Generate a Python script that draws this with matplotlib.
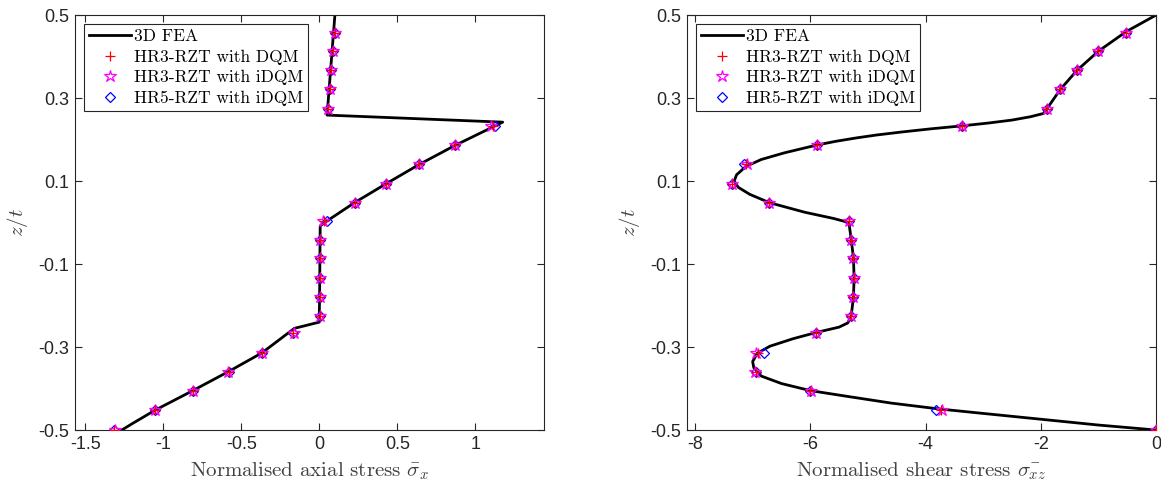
import numpy as np
import matplotlib
matplotlib.use("Agg")
import matplotlib.pyplot as plt

plt.rcParams['mathtext.fontset'] = 'cm'
plt.rcParams['axes.unicode_minus'] = False

# z/t positions of the sampled points
z_pts = [0.458, 0.413, 0.367, 0.321, 0.274, 0.233, 0.186, 0.140, 0.094, 0.048, 0.004,
         -0.041, -0.086, -0.133, -0.179, -0.225, -0.265, -0.314, -0.359, -0.405, -0.452, -0.500]

# axial stress: 3D FEA curve
ax_fea_x = [0.10, 0.05, 1.175, 0.87, 0.64, 0.43, 0.226, 0.05, 0.006, 0.005, 0.004, 0.003,
            0.002, 0.0, 0.0, -0.16, -0.367, -0.581, -0.81, -1.051, -1.20, -1.265]
ax_fea_z = [0.500, 0.259, 0.242, 0.186, 0.140, 0.094, 0.048, 0.004, -0.008, -0.041, -0.086,
            -0.133, -0.179, -0.225, -0.240, -0.255, -0.314, -0.359, -0.405, -0.452, -0.485, -0.500]
# axial stress: models
ax_dqm = [0.098, 0.088, 0.077, 0.066, 0.056, 1.11, 0.867, 0.637, 0.429, 0.226, 0.03,
          0.002, 0.002, 0.002, 0.002, 0.002, -0.171, -0.367, -0.581, -0.810, -1.051, -1.314]
ax_idqm3 = [0.098, 0.088, 0.077, 0.066, 0.056, 1.10, 0.867, 0.637, 0.429, 0.226, 0.025,
            0.002, 0.002, 0.002, 0.002, 0.002, -0.165, -0.367, -0.585, -0.810, -1.051, -1.310]
ax_idqm5 = [0.098, 0.088, 0.077, 0.066, 0.056, 1.125, 0.867, 0.637, 0.429, 0.226, 0.05,
            0.002, 0.002, 0.002, 0.002, 0.002, -0.171, -0.367, -0.581, -0.810, -1.051, -1.314]

# shear stress: 3D FEA curve
sh_fea_x = [0.0, -0.52, -1.0, -1.37, -1.66, -1.89, -1.95, -2.18, -2.5, -2.9, -3.37, -3.9,
            -4.43, -4.85, -5.2, -5.55, -5.88, -6.45, -6.85, -7.12, -7.28, -7.32, -7.25, -7.05,
            -6.71, -6.1, -5.6, -5.33, -5.29, -5.25, -5.24, -5.25, -5.29, -5.35, -5.5, -5.9,
            -6.3, -6.7, -6.92, -7.0, -6.98, -6.85, -6.5, -6.0, -5.4, -4.6, -3.78, -3.0, -2.0,
            -1.0, 0.0]
sh_fea_z = [0.500, 0.460, 0.413, 0.367, 0.321, 0.275, 0.263, 0.255, 0.247, 0.240, 0.233, 0.226,
            0.218, 0.211, 0.204, 0.196, 0.187, 0.168, 0.152, 0.135, 0.115, 0.100, 0.085, 0.068,
            0.048, 0.025, 0.010, 0.0, -0.040, -0.086, -0.133, -0.179, -0.225, -0.242, -0.252, -0.265,
            -0.280, -0.298, -0.315, -0.335, -0.350, -0.370, -0.388, -0.405, -0.418, -0.435, -0.449,
            -0.460, -0.474, -0.488, -0.500]
# shear stress: models
sh_dqm = [-0.52, -1.0, -1.37, -1.66, -1.89, -3.365, -5.876, -7.12, -7.366, -6.713, -5.329,
          -5.29, -5.25, -5.24, -5.25, -5.29, -5.90, -6.90, -6.94, -6.0, -3.74, 0.0]
sh_idqm3 = [-0.52, -1.0, -1.37, -1.66, -1.89, -3.365, -5.876, -7.10, -7.366, -6.713, -5.329,
            -5.29, -5.25, -5.24, -5.25, -5.29, -5.90, -6.95, -6.96, -5.98, -3.72, 0.0]
sh_idqm5 = [-0.52, -1.0, -1.37, -1.66, -1.89, -3.365, -5.876, -7.15, -7.366, -6.713, -5.329,
            -5.29, -5.25, -5.24, -5.25, -5.29, -5.90, -6.81, -6.94, -6.0, -3.82, 0.0]

labels = ['3D FEA', 'HR3-RZT with DQM', 'HR3-RZT with iDQM', 'HR5-RZT with iDQM']
yticks = [0.5, 0.3, 0.1, -0.1, -0.3, -0.5]
label_col = '#262626'
tick_font = 'Liberation Sans'
cm_font = 'cmr10'


def dibujar(ax, fea_x, fea_z, s1, s2, s3, xlim, xticks, xlabel):
    ax.plot(fea_x, fea_z, color='k', lw=2.0, label=labels[0], zorder=2)
    ax.plot(s1, z_pts, ls='none', marker='+', color='#FF0000', ms=6.5, mew=0.9,
            label=labels[1], zorder=5)
    ax.plot(s2, z_pts, ls='none', marker='*', color='#FF00FF', mfc='none', ms=9, mew=0.9,
            label=labels[2], zorder=4)
    ax.plot(s3, z_pts, ls='none', marker='D', color='#0000FF', mfc='none', ms=5.5, mew=0.9,
            label=labels[3], zorder=3)
    ax.set_xlim(xlim)
    ax.set_ylim(-0.5, 0.5)
    ax.set_xticks(xticks)
    ax.set_yticks(yticks)
    ax.set_xticklabels([('%g' % t) for t in xticks], fontfamily=tick_font, fontsize=13,
                       color=label_col)
    ax.set_yticklabels([('%g' % t) for t in yticks], fontfamily=tick_font, fontsize=13,
                       color=label_col)
    ax.tick_params(direction='in', top=True, right=True, length=5, width=0.8,
                   colors='#262626', labelcolor=label_col, pad=4)
    for sp in ax.spines.values():
        sp.set_color('#262626')
        sp.set_linewidth(0.8)
    ax.set_xlabel(xlabel, fontfamily=cm_font, fontsize=15, color='#404040', labelpad=6)
    ax.set_ylabel(r'$z/t$', fontsize=15, color='#404040', labelpad=6)
    leg = ax.legend(loc='upper left', prop={'family': cm_font, 'size': 12.5},
                    fancybox=False, framealpha=1, edgecolor='#262626',
                    handlelength=2.4, borderaxespad=0.5, borderpad=0.3,
                    labelspacing=0.3, handletextpad=0.2)
    leg.get_frame().set_linewidth(0.8)


fig = plt.figure(figsize=(11.61, 4.87), dpi=100)
ax1 = fig.add_axes([0.0646, 0.117, 0.404, 0.852])
ax2 = fig.add_axes([0.5917, 0.117, 0.404, 0.852])

dibujar(ax1, ax_fea_x, ax_fea_z, ax_dqm, ax_idqm3, ax_idqm5,
        (-1.565, 1.44), [-1.5, -1, -0.5, 0, 0.5, 1],
        r'Normalised axial stress $\bar{\sigma}_x$')
dibujar(ax2, sh_fea_x, sh_fea_z, sh_dqm, sh_idqm3, sh_idqm5,
        (-8.14, 0.0), [-8, -6, -4, -2, 0],
        r'Normalised shear stress $\bar{\sigma_{xz}}$')

fig.savefig('out.png', dpi=100)
